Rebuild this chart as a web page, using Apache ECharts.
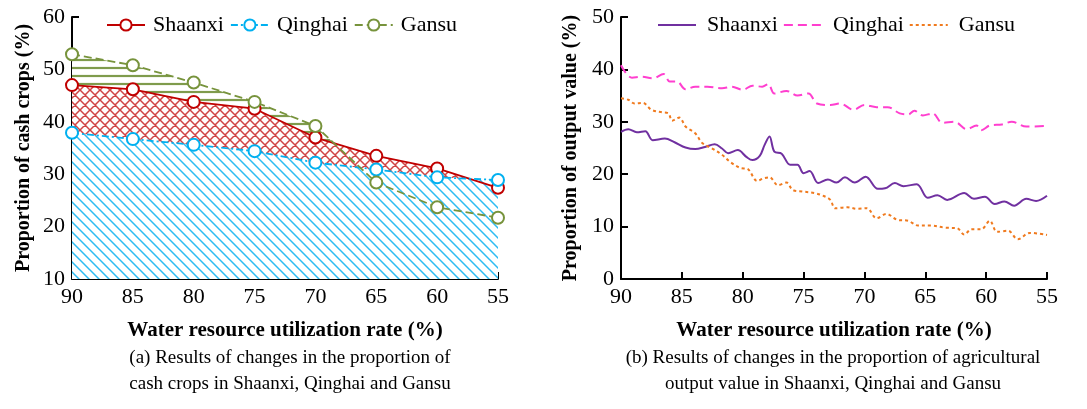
<!DOCTYPE html>
<html>
<head>
<meta charset="utf-8">
<script src="https://cdn.jsdelivr.net/npm/echarts@6/dist/echarts.min.js"></script>
<style>
html,body{margin:0;padding:0;background:#fff;}
#chart{width:1087px;height:409px;}
</style>
</head>
<body>
<div id="chart"></div>
<script>
// ---------- Data ----------
// (a) proportion of cash crops (%) vs water resource utilization rate (%)
const ratesA = [90, 85, 80, 75, 70, 65, 60, 55];
const shaanxiA = [47.0, 46.2, 43.8, 42.5, 37.0, 33.5, 31.1, 27.4];
const qinghaiA = [37.9, 36.7, 35.6, 34.4, 32.2, 30.9, 29.4, 28.9];
const gansuA = [52.9, 50.8, 47.5, 43.8, 39.2, 28.4, 23.7, 21.7];

// (b) proportion of agricultural output value (%)
const shaanxiBx = [90,89.4,88.7,88.0,87.4,86.4,85.6,84.7,83.9,83.1,82.3,81.7,81.2,80.4,79.7,79.2,78.6,78.2,77.8,77.4,76.8,76.1,75.5,75.0,74.5,73.8,73.0,72.3,71.6,70.8,69.9,68.9,68.3,67.5,66.8,65.7,64.8,64.0,63.2,61.8,61.0,60.1,59.3,58.5,57.7,56.7,55.9,55.0];
const shaanxiBy = [28.1,28.6,28.0,28.2,26.5,26.8,26.1,25.1,24.8,25.2,25.7,24.9,24.0,24.6,23.3,22.7,23.5,25.6,27.2,24.3,23.9,21.8,21.8,20.2,20.6,18.3,19.0,18.4,19.4,18.4,19.5,17.2,17.3,18.3,17.7,18.1,15.5,16.0,15.1,16.4,15.3,15.7,14.3,14.8,14.0,15.3,14.9,15.9];
const qinghaiBx = [90,89.1,88.3,87.4,86.5,86.0,85.4,84.7,83.9,82.9,81.7,80.9,80.0,79.2,78.4,77.9,77.4,76.4,75.5,74.6,73.9,72.8,72.0,70.9,70.0,69.0,68.1,67.1,66.4,65.9,65.2,64.4,63.6,62.6,61.6,60.8,60.4,59.7,58.7,57.9,56.7,55.0];
const qinghaiBy = [40.8,38.4,38.6,38.3,39.1,37.7,37.7,36.2,36.7,36.7,36.4,36.7,36.1,36.9,36.7,37.2,35.4,35.9,35.0,35.4,33.5,33.2,33.5,32.3,33.2,32.8,32.8,31.6,31.4,32.1,31.2,31.6,29.8,30.0,28.6,29.3,28.4,29.3,29.5,30.0,29.1,29.2];
const gansuBx = [90,89.4,88.9,88.2,87.5,86.6,86.1,85.8,85.2,84.7,83.9,83.3,82.5,81.7,81.0,80.2,79.6,78.8,78.3,77.8,77.1,76.4,75.9,75.1,74.1,73.4,72.8,72.4,71.4,70.6,69.8,69.0,68.2,67.3,66.4,65.6,64.5,63.4,62.4,61.8,61.2,60.4,59.7,59.1,58.2,57.4,56.4,55.0];
const gansuBy = [34.5,34.2,33.5,33.6,32.3,31.8,31.6,30.2,30.8,29.1,27.8,25.9,24.9,23.7,22.3,21.2,21.0,18.7,19.2,19.4,17.9,18.4,17.0,16.7,16.4,15.9,15.1,13.5,13.7,13.4,13.5,11.6,12.4,11.3,11.1,10.2,10.2,9.8,9.7,8.5,9.5,9.5,11.1,9.0,9.2,7.6,8.8,8.4];

const names = ['Shaanxi', 'Qinghai', 'Gansu'];
const captionA = ['(a) Results of changes in the proportion of', 'cash crops in Shaanxi, Qinghai and Gansu'];
const captionB = ['(b) Results of changes in the proportion of agricultural', 'output value in Shaanxi, Qinghai and Gansu'];

// ---------- helpers ----------
const FONT = '"Liberation Serif", "Times New Roman", serif';
function pairs(xs, ys) { return xs.map((x, i) => [x, ys[i]]); }

function makePattern(kind, color, size, lw) {
  const c = document.createElement('canvas');
  c.width = size; c.height = size;
  const g = c.getContext('2d');
  g.fillStyle = '#fff';
  g.fillRect(0, 0, size, size);
  g.strokeStyle = color;
  g.lineWidth = lw;
  g.beginPath();
  if (kind === 'back' || kind === 'cross') {
    g.moveTo(-1, -1); g.lineTo(size + 1, size + 1);
    g.moveTo(-2, size - 2); g.lineTo(2, size + 2);
    g.moveTo(size - 2, -2); g.lineTo(size + 2, 2);
  }
  if (kind === 'cross') {
    g.moveTo(size + 1, -1); g.lineTo(-1, size + 1);
    g.moveTo(2, -2); g.lineTo(-2, 2);
    g.moveTo(size + 2, size - 2); g.lineTo(size - 2, size + 2);
  }
  if (kind === 'horiz') {
    g.moveTo(0, size / 2); g.lineTo(size, size / 2);
  }
  g.stroke();
  return { image: c, repeat: 'repeat' };
}

const colA = ['#C00000', '#00B0F0', '#77933C'];
const colB = ['#7030A0', '#FF3FCF', '#F07A1E'];
const patterns = [
  makePattern('cross', '#D04545', 10, 1.5),
  makePattern('back', '#2DBCF2', 10, 1.5),
  makePattern('horiz', '#7F9B4C', 8, 2.2)
];
const valsA = [shaanxiA, qinghaiA, gansuA];
const dashA = ['solid', [7, 3, 2, 3], [8, 4]];
const dashB = ['solid', [9, 5], [3, 3]];
const bData = [pairs(shaanxiBx, shaanxiBy), pairs(qinghaiBx, qinghaiBy), pairs(gansuBx, gansuBy)];

const axisCommon = {
  axisLine: { show: true, lineStyle: { color: '#000', width: 2 } },
  axisTick: { show: true, inside: true, length: 7, lineStyle: { color: '#000', width: 2 } },
  axisLabel: { color: '#000', fontSize: 22, fontFamily: FONT, margin: 7 },
  splitLine: { show: false },
  nameLocation: 'middle'
};
const xName = { color: '#000', fontSize: 21, fontWeight: 'bold', fontFamily: FONT };
const yName = { color: '#000', fontSize: 20, fontWeight: 'bold', fontFamily: FONT };

const series = [];
// area layers for (a): Gansu (back), Shaanxi, Qinghai (front)
[2, 0, 1].forEach((k, order) => {
  series.push({
    name: names[k] + '_area', type: 'line', xAxisIndex: 0, yAxisIndex: 0,
    data: ratesA.map((x, i) => [x, valsA[k][i]]),
    symbol: 'none', lineStyle: { width: 0 }, silent: true,
    areaStyle: { color: patterns[k], opacity: 1, origin: 'start' },
    z: 1 + order
  });
});
// lines for (a)
[0, 1, 2].forEach(k => {
  series.push({
    name: names[k], type: 'line', xAxisIndex: 0, yAxisIndex: 0,
    data: ratesA.map((x, i) => [x, valsA[k][i]]),
    symbol: 'emptyCircle', symbolSize: 12,
    itemStyle: { color: colA[k], borderWidth: 1.6 },
    lineStyle: { color: colA[k], width: 1.8, type: dashA[k] },
    z: 10
  });
});
// lines for (b)
[0, 1, 2].forEach(k => {
  series.push({
    name: names[k] + '_b', type: 'line', xAxisIndex: 1, yAxisIndex: 1,
    data: bData[k], smooth: 0.35, symbol: 'none', showSymbol: false,
    itemStyle: { color: colB[k] },
    lineStyle: { color: colB[k], width: 2, type: dashB[k] },
    z: 10
  });
});

const legendText = { color: '#000', fontSize: 22, fontFamily: FONT, padding: [0, 0, 0, 3] };

const option = {
  animation: false,
  backgroundColor: '#fff',
  legend: [
    { left: 101, top: 9, itemWidth: 38, itemHeight: 14, itemGap: 6, selectedMode: false,
      textStyle: legendText, data: names },
    { left: 652, top: 9, itemWidth: 38, itemHeight: 1, itemGap: 5, selectedMode: false,
      textStyle: Object.assign({}, legendText, { padding: [0, 0, 0, 6] }),
      data: names.map(n => n + '_b'), formatter: n => n.replace('_b', '') }
  ],
  grid: [
    { left: 72, top: 17, width: 426, height: 262 },
    { left: 621, top: 17, width: 426, height: 262 }
  ],
  xAxis: [
    Object.assign({}, axisCommon, { type: 'value', gridIndex: 0, min: 55, max: 90, interval: 5, inverse: true,
      name: 'Water resource utilization rate (%)', nameGap: 41, nameTextStyle: xName }),
    Object.assign({}, axisCommon, { type: 'value', gridIndex: 1, min: 55, max: 90, interval: 5, inverse: true,
      name: 'Water resource utilization rate (%)', nameGap: 41, nameTextStyle: xName })
  ],
  yAxis: [
    Object.assign({}, axisCommon, { type: 'value', gridIndex: 0, min: 10, max: 60, interval: 10,
      name: 'Proportion of cash crops (%)', nameGap: 38, nameTextStyle: yName }),
    Object.assign({}, axisCommon, { type: 'value', gridIndex: 1, min: 0, max: 50, interval: 10,
      name: 'Proportion of output value (%)', nameGap: 40, nameTextStyle: yName })
  ],
  graphic: [
    { type: 'text', x: 290, y: 345, style: { text: captionA.join('\n'), fill: '#000', font: '19px ' + FONT, align: 'center', lineHeight: 26 } },
    { type: 'text', x: 833, y: 345, style: { text: captionB.join('\n'), fill: '#000', font: '19px ' + FONT, align: 'center', lineHeight: 26 } }
  ],
  series: series
};

const chart = echarts.init(document.getElementById('chart'), null, { renderer: 'canvas' });
chart.setOption(option);
</script>
</body>
</html>
